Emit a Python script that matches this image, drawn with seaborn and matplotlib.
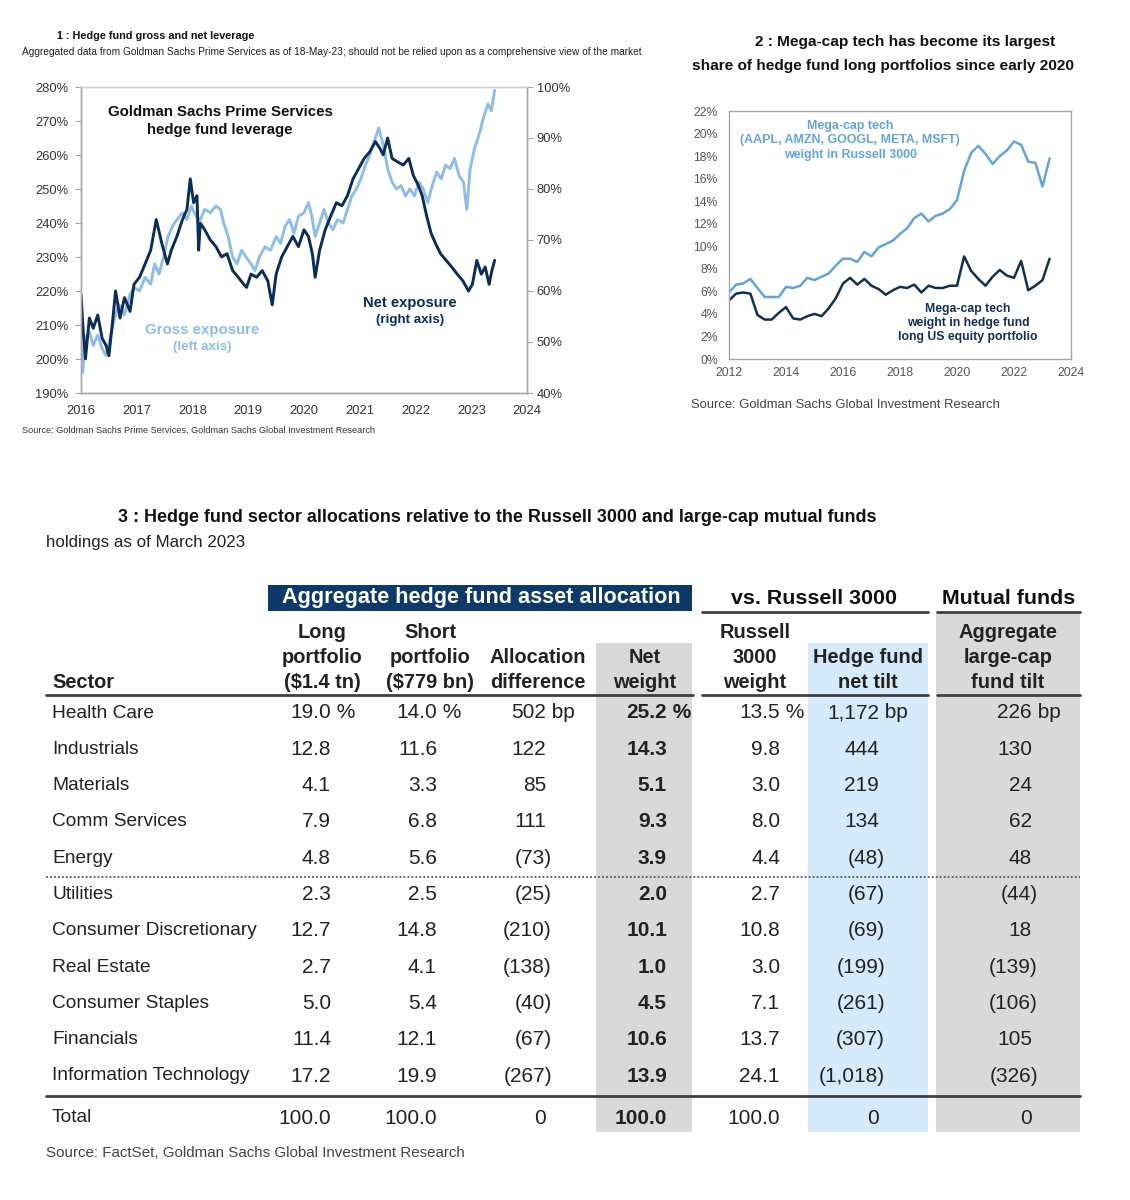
import numpy as np
import pandas as pd
import seaborn as sns
import matplotlib.pyplot as plt
from matplotlib.patches import Rectangle

sns.set_theme(style="white")
plt.rcParams['font.family'] = ['Liberation Sans', 'DejaVu Sans']

W, H = 1130, 1200
NARROW = ['Liberation Sans Narrow', 'Liberation Sans', 'DejaVu Sans']
ARIAL = ['Liberation Sans', 'DejaVu Sans']

LIGHT = '#8dbde9'
DARK = '#0b2d57'
LIGHT2 = '#62a4de'
DARK2 = '#14304f'
NAVY = '#0d3a68'
GRAY_BG = '#d9d9d9'
BLUE_BG = '#d5eafa'
INK = '#222222'

# ---- chart 1: gross (left axis) and net (right axis) leverage ----
gross_t = [2016.00, 2016.03, 2016.08, 2016.15, 2016.22, 2016.30, 2016.38, 2016.45, 2016.52,
           2016.60, 2016.68, 2016.78, 2016.88, 2016.96, 2017.05, 2017.15, 2017.25, 2017.32,
           2017.40, 2017.48, 2017.56, 2017.64, 2017.72, 2017.82, 2017.90, 2017.98, 2018.06,
           2018.14, 2018.22, 2018.32, 2018.42, 2018.50, 2018.56, 2018.64, 2018.72, 2018.80,
           2018.88, 2018.96, 2019.05, 2019.12, 2019.20, 2019.30, 2019.40, 2019.50, 2019.58,
           2019.66, 2019.74, 2019.82, 2019.90, 2020.00, 2020.08, 2020.14, 2020.20, 2020.28,
           2020.36, 2020.44, 2020.52, 2020.60, 2020.70, 2020.78, 2020.86, 2020.94, 2021.02,
           2021.10, 2021.18, 2021.26, 2021.34, 2021.42, 2021.50, 2021.58, 2021.66, 2021.74,
           2021.82, 2021.90, 2021.98, 2022.06, 2022.14, 2022.22, 2022.30, 2022.38, 2022.46,
           2022.54, 2022.62, 2022.70, 2022.78, 2022.86, 2022.92, 2022.98, 2023.06, 2023.14,
           2023.22, 2023.30, 2023.36, 2023.42]
gross_v = [205, 196, 206, 208, 204, 207, 203, 201, 206,
           212, 216, 213, 219, 221, 220, 224, 222, 228,
           225, 230, 236, 239, 241, 243, 241, 245, 242,
           241, 244, 243, 245, 244, 240, 236, 230, 228,
           232, 230, 228, 226, 230, 233, 232, 236, 234,
           239, 241, 237, 242, 243, 246, 242, 236, 240,
           244, 240, 238, 241, 240, 244, 248, 250, 253,
           257, 260, 264, 268, 263, 256, 252, 250, 251,
           248, 250, 248, 252, 250, 246, 251, 255, 253,
           257, 256, 259, 254, 252, 244, 256, 262, 266,
           271, 275, 273, 279]

net_t = [2016.00, 2016.04, 2016.08, 2016.15, 2016.22, 2016.30, 2016.38, 2016.45, 2016.50,
         2016.56, 2016.62, 2016.70, 2016.78, 2016.88, 2016.95, 2017.05, 2017.15, 2017.25,
         2017.35, 2017.45, 2017.55, 2017.62, 2017.72, 2017.82, 2017.90, 2017.96, 2018.02,
         2018.08, 2018.11, 2018.14, 2018.22, 2018.32, 2018.42, 2018.52, 2018.62, 2018.72,
         2018.82, 2018.92, 2018.97, 2019.05, 2019.15, 2019.25, 2019.35, 2019.43, 2019.50,
         2019.60, 2019.70, 2019.80, 2019.90, 2020.00, 2020.08, 2020.15, 2020.20, 2020.28,
         2020.38, 2020.48, 2020.58, 2020.68, 2020.78, 2020.88, 2020.98, 2021.08, 2021.18,
         2021.28, 2021.36, 2021.42, 2021.50, 2021.58, 2021.68, 2021.78, 2021.88, 2021.96,
         2022.05, 2022.12, 2022.20, 2022.28, 2022.36, 2022.45, 2022.55, 2022.65, 2022.75,
         2022.85, 2022.95, 2023.02, 2023.10, 2023.18, 2023.25, 2023.32, 2023.37, 2023.42]
net_v = [59.3, 52.0, 46.7, 54.7, 52.7, 55.3, 50.7, 49.3, 47.3,
         53.3, 60.0, 54.7, 58.7, 56.0, 61.3, 62.7, 65.3, 68.0,
         74.0, 69.3, 65.3, 68.0, 70.7, 74.0, 76.0, 82.0, 77.3,
         78.7, 68.0, 73.3, 72.0, 70.0, 68.7, 66.7, 67.3, 64.0,
         62.7, 61.3, 60.7, 63.3, 62.7, 64.0, 62.0, 57.3, 63.3,
         66.7, 68.7, 70.7, 68.7, 72.0, 70.7, 67.3, 62.7, 68.0,
         72.0, 74.7, 77.3, 76.7, 78.7, 82.0, 84.0, 86.0, 87.3,
         89.3, 88.0, 86.7, 90.0, 86.0, 85.3, 84.7, 86.0, 82.7,
         80.7, 78.7, 74.7, 71.3, 69.3, 67.3, 66.0, 64.7, 63.3,
         62.0, 60.0, 61.3, 66.0, 63.3, 64.7, 61.3, 64.0, 66.0]

# ---- chart 2: quarterly mega-cap weights ----
quarters = pd.period_range('2012Q1', '2023Q2', freq='Q')
r3000_mega = [5.9, 6.6, 6.7, 7.1, 6.3, 5.5, 5.5, 5.5, 6.4, 6.3, 6.5, 7.2,
              7.0, 7.3, 7.6, 8.3, 8.9, 8.9, 8.6, 9.5, 9.1, 9.9, 10.2, 10.5,
              11.1, 11.6, 12.5, 12.9, 12.2, 12.7, 12.9, 13.3, 14.1, 16.7, 18.3, 18.9,
              18.2, 17.3, 18.0, 18.5, 19.3, 19.0, 17.5, 17.4, 15.3, 17.8]
hf_mega = [5.2, 5.8, 5.9, 5.8, 3.9, 3.5, 3.5, 4.1, 4.6, 3.6, 3.5, 3.8,
           4.0, 3.8, 4.5, 5.4, 6.7, 7.2, 6.6, 7.1, 6.5, 6.2, 5.7, 6.1,
           6.4, 6.3, 6.6, 5.9, 6.5, 6.3, 6.3, 6.5, 6.5, 9.1, 7.8, 7.1,
           6.5, 7.3, 7.9, 7.4, 7.2, 8.7, 6.1, 6.5, 7.0, 8.9]

# ---- table 3 ----
sectors = ['Health Care', 'Industrials', 'Materials', 'Comm Services', 'Energy',
           'Utilities', 'Consumer Discretionary', 'Real Estate', 'Consumer Staples',
           'Financials', 'Information Technology']
long_pf = [19.0, 12.8, 4.1, 7.9, 4.8, 2.3, 12.7, 2.7, 5.0, 11.4, 17.2]
short_pf = [14.0, 11.6, 3.3, 6.8, 5.6, 2.5, 14.8, 4.1, 5.4, 12.1, 19.9]
alloc_diff = [502, 122, 85, 111, -73, -25, -210, -138, -40, -67, -267]
net_weight = [25.2, 14.3, 5.1, 9.3, 3.9, 2.0, 10.1, 1.0, 4.5, 10.6, 13.9]
r3000_weight = [13.5, 9.8, 3.0, 8.0, 4.4, 2.7, 10.8, 3.0, 7.1, 13.7, 24.1]
hf_tilt = [1172, 444, 219, 134, -48, -67, -69, -199, -261, -307, -1018]
mf_tilt = [226, 130, 24, 62, 48, -44, 18, -139, -106, 105, -326]
totals = ['100.0', '100.0', '0', '100.0', '100.0', '0', '0']


def box(x0, y0, x1, y1):
    return [x0 / W, 1 - y1 / H, (x1 - x0) / W, (y1 - y0) / H]


def style_axes(ax, size, color='#333333'):
    for s in ax.spines.values():
        s.set_color('#a6a6a6')
        s.set_linewidth(1.0)
    ax.tick_params(axis='both', direction='out', length=4, width=0.8, color='#a6a6a6',
                   labelsize=size, labelcolor=color, pad=2)
    ax.set_xlabel('')
    ax.set_ylabel('')


fig = plt.figure(figsize=(W / 100, H / 100), dpi=100)

# chart 1
ax1 = fig.add_axes(box(81, 87, 527, 393))
sns.lineplot(x=gross_t, y=gross_v, ax=ax1, color=LIGHT, lw=2.1)
ax1.set_xlim(2016, 2024)
ax1.set_ylim(190, 280)
ax1.set_yticks(range(190, 281, 10))
ax1.set_yticklabels([f'{v}%' for v in range(190, 281, 10)])
ax1.set_xticks(range(2016, 2025))
style_axes(ax1, 9.3)
ax1.tick_params(axis='y', pad=5)
ax1.tick_params(axis='x', pad=4.5)
ax1.spines['top'].set_color('#d0d0d0')
ax1r = ax1.twinx()
sns.lineplot(x=net_t, y=net_v, ax=ax1r, color=DARK, lw=2.1)
ax1r.set_ylim(40, 100)
ax1r.set_yticks(range(40, 101, 10))
ax1r.set_yticklabels([f'{v}%' for v in range(40, 101, 10)])
style_axes(ax1r, 9.3)
ax1r.tick_params(axis='y', pad=3)
ax1r.spines['top'].set_color('#d0d0d0')

# chart 2
ax2 = fig.add_axes(box(729, 111, 1071, 359))
qx = [p.year + (p.quarter - 1) / 4 for p in quarters]
sns.lineplot(x=qx, y=r3000_mega, ax=ax2, color=LIGHT2, lw=1.8)
sns.lineplot(x=qx, y=hf_mega, ax=ax2, color=DARK2, lw=1.8)
ax2.set_xlim(2012, 2024)
ax2.set_ylim(0, 22)
ax2.set_yticks(range(0, 23, 2))
ax2.set_yticklabels([f'{v}%' for v in range(0, 23, 2)])
ax2.set_xticks(range(2012, 2025, 2))
style_axes(ax2, 8.8, '#555555')
ax2.tick_params(axis='y', length=0, pad=8)

# overlay for text and table
t = fig.add_axes([0, 0, 1, 1])
t.set_xlim(0, W)
t.set_ylim(H, 0)
t.axis('off')
t.patch.set_alpha(0)

# chart 1 texts
t.text(57, 36, '1 : Hedge fund gross and net leverage', family=NARROW, weight='bold',
       fontsize=7.8, va='center', color='#111111')
t.text(22, 52, 'Aggregated data from Goldman Sachs Prime Services as of 18-May-23; '
       'should not be relied upon as a comprehensive view of the market',
       family=NARROW, fontsize=7.3, va='center', color=INK)
t.text(22, 430, 'Source: Goldman Sachs Prime Services, Goldman Sachs Global Investment Research',
       family=NARROW, fontsize=6.6, va='center', color='#333333')
t.text(220, 112, 'Goldman Sachs Prime Services', family=ARIAL, weight='bold',
       fontsize=10.8, ha='center', va='center', color='#111111')
t.text(220, 130, 'hedge fund leverage', family=ARIAL, weight='bold',
       fontsize=10.8, ha='center', va='center', color='#111111')
t.text(202, 330, 'Gross exposure', family=ARIAL, weight='bold', fontsize=10.8,
       ha='center', va='center', color=LIGHT)
t.text(202, 347, '(left axis)', family=ARIAL, weight='bold', fontsize=9.6,
       ha='center', va='center', color=LIGHT)
t.text(410, 303, 'Net exposure', family=ARIAL, weight='bold', fontsize=10.6,
       ha='center', va='center', color=DARK)
t.text(410, 320, '(right axis)', family=ARIAL, weight='bold', fontsize=9.6,
       ha='center', va='center', color=DARK)

# chart 2 texts
t.text(905, 42, '2 : Mega-cap tech has become its largest', family=NARROW, weight='bold',
       fontsize=11.1, ha='center', va='center', color='#111111')
t.text(883, 66, 'share of hedge fund long portfolios since early 2020', family=NARROW,
       weight='bold', fontsize=11.1, ha='center', va='center', color='#111111')
t.text(691, 405, 'Source: Goldman Sachs Global Investment Research', family=NARROW,
       fontsize=9.4, va='center', color='#444444')
for i, line in enumerate(['Mega-cap tech', '(AAPL, AMZN, GOOGL, META, MSFT)',
                          'weight in Russell 3000']):
    t.text(850, 126 + i * 14.5, line, family=ARIAL, weight='bold', fontsize=8.9,
           ha='center', va='center', color=LIGHT2)
for i, line in enumerate(['Mega-cap tech', 'weight in hedge fund',
                          'long US equity portfolio']):
    t.text(968, 309 + i * 14, line, family=ARIAL, weight='bold', fontsize=8.8,
           ha='center', va='center', color=DARK2)

# table 3
t.text(118, 517, '3 : Hedge fund sector allocations relative to the Russell 3000 and '
       'large-cap mutual funds', family=NARROW, weight='bold', fontsize=12.9,
       va='center', color='#111111')
t.text(46, 543, 'holdings as of March 2023', family=NARROW, fontsize=12.2,
       va='center', color=INK)
t.text(46, 1153, 'Source: FactSet, Goldman Sachs Global Investment Research',
       family=NARROW, fontsize=10.9, va='center', color='#444444')

t.add_patch(Rectangle((596, 643), 96, 489, color=GRAY_BG, lw=0, zorder=0))
t.add_patch(Rectangle((808, 643), 120, 489, color=BLUE_BG, lw=0, zorder=0))
t.add_patch(Rectangle((936, 613), 144, 519, color=GRAY_BG, lw=0, zorder=0))
t.add_patch(Rectangle((268, 585), 424, 26, color=NAVY, lw=0, zorder=1))

NAME_FS = 13.8
NUM_FS = 15
HEAD_FS = 14.4
t.text(481, 598, 'Aggregate hedge fund asset allocation', family=ARIAL, weight='bold',
       fontsize=15.6, ha='center', va='center', color='white', zorder=2)
t.text(814, 598, 'vs. Russell 3000', family=ARIAL, weight='bold', fontsize=15.4,
       ha='center', va='center', color='#111111')
t.text(1009, 598, 'Mutual funds', family=ARIAL, weight='bold', fontsize=15.4,
       ha='center', va='center', color='#111111')
t.plot([702, 928], [612, 612], color='#404040', lw=2)
t.plot([937, 1080], [612, 612], color='#404040', lw=2)

headers = [(322, ['Long', 'portfolio', '($1.4 tn)']),
           (430, ['Short', 'portfolio', '($779 bn)']),
           (538, ['Allocation', 'difference']),
           (645, ['Net', 'weight']),
           (755, ['Russell', '3000', 'weight']),
           (868, ['Hedge fund', 'net tilt']),
           (1008, ['Aggregate', 'large-cap', 'fund tilt'])]
for cx, lines in headers:
    for k, line in enumerate(reversed(lines)):
        t.text(cx, 683 - k * 25.5, line, family=NARROW, weight='bold', fontsize=HEAD_FS,
               ha='center', va='center', color=INK)
t.text(52, 683, 'Sector', family=NARROW, weight='bold', fontsize=HEAD_FS, va='center',
       color=INK)
for x0, x1 in [(46, 693), (702, 928), (937, 1080)]:
    t.plot([x0, x1], [695, 695], color='#404040', lw=2)


def fmt_pct(v):
    return f'{v:.1f}'


def fmt_bp(v):
    s = f'{abs(v):,}'
    return f'({s})' if v < 0 else s


columns = [(331, long_pf, fmt_pct, ' %', 'normal'),
           (437, short_pf, fmt_pct, ' %', 'normal'),
           (546, alloc_diff, fmt_bp, ' bp', 'normal'),
           (667, net_weight, fmt_pct, ' %', 'bold'),
           (780, r3000_weight, fmt_pct, ' %', 'normal'),
           (879, hf_tilt, fmt_bp, ' bp', 'normal'),
           (1032, mf_tilt, fmt_bp, ' bp', 'normal')]

row_y = [713 + i * 36.3 for i in range(len(sectors))]
for i, name in enumerate(sectors):
    y = row_y[i]
    t.text(52, y, name, family=NARROW, fontsize=NAME_FS, va='center', color=INK)
    for cx, vals, fmt, unit, wt in columns:
        v = vals[i]
        s = fmt(v)
        xr = cx + 6 if s.startswith('(') else cx
        t.text(xr, y, s, family=NARROW, fontsize=NUM_FS, weight=wt, ha='right',
               va='center', color=INK)
        if i == 0:
            t.text(cx, y, unit, family=NARROW, fontsize=NUM_FS, weight=wt, ha='left',
                   va='center', color=INK)

t.plot([46, 1080], [877, 877], color='#555555', lw=1.3, ls=(0, (1, 1.2)))
t.plot([46, 1080], [1096, 1096], color='#404040', lw=2)
t.text(52, 1118, 'Total', family=NARROW, fontsize=NAME_FS, va='center', color=INK)
for (cx, _, _, _, wt), s in zip(columns, totals):
    t.text(cx, 1118, s, family=NARROW, fontsize=NUM_FS, weight=wt, ha='right',
           va='center', color=INK)

fig.savefig('out.png', dpi=100)
